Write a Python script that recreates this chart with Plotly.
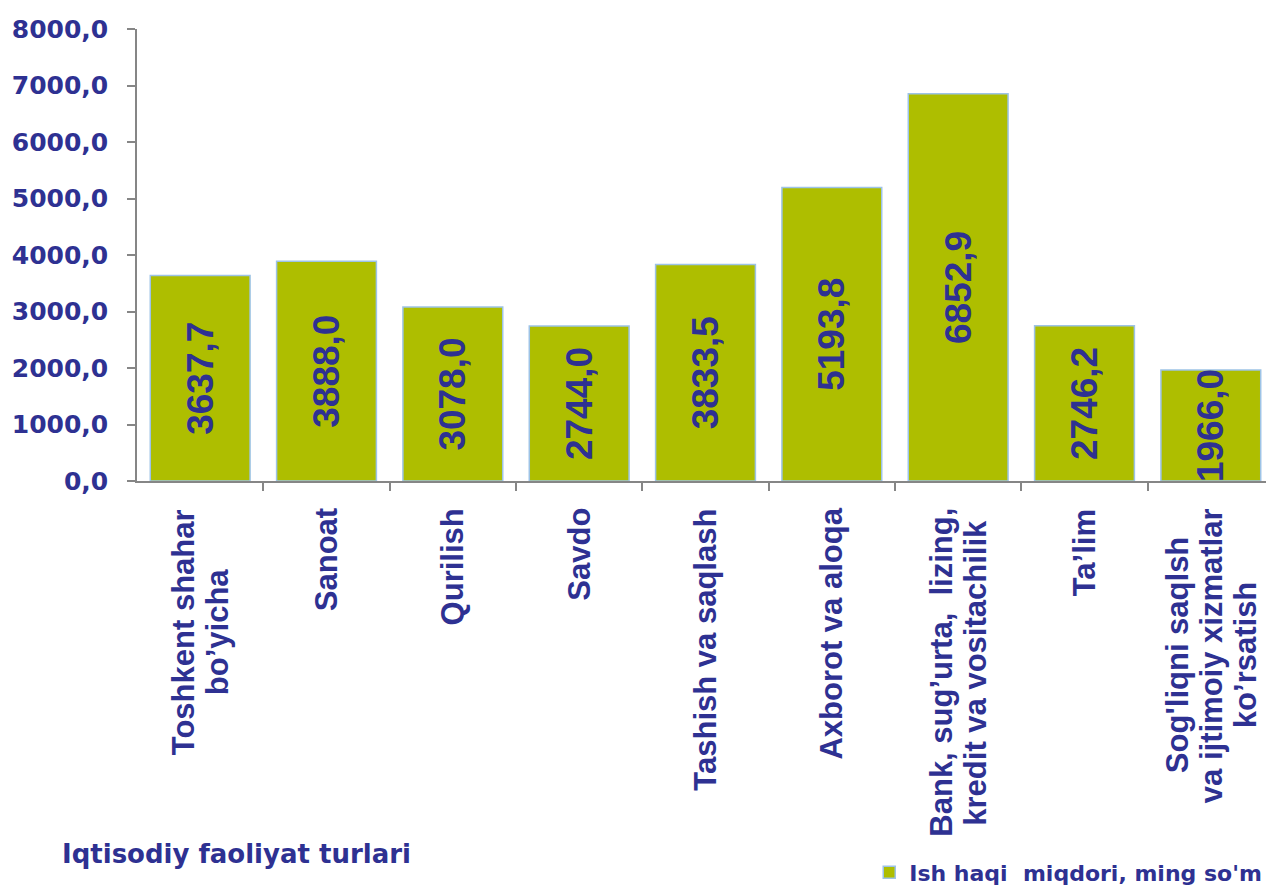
import plotly.graph_objects as go

categories = [
    ["Toshkent shahar", "bo’yicha"],
    ["Sanoat"],
    ["Qurilish"],
    ["Savdo"],
    ["Tashish va saqlash"],
    ["Axborot va aloqa"],
    ["Bank, sug’urta,  lizing,", "kredit va vositachilik"],
    ["Ta’lim"],
    ["Sog'liqni saqlsh", "va ijtimoiy xizmatlar", "ko’rsatish"],
]
values = [3637.7, 3888.0, 3078.0, 2744.0, 3833.5, 5193.8, 6852.9, 2746.2, 1966.0]
series_name = "Ish haqi\u00a0 miqdori, ming so'm"
axis_title = "Iqtisodiy faoliyat turlari"
y_ticks = [0, 1000, 2000, 3000, 4000, 5000, 6000, 7000, 8000]

TEXT = "#2E3192"
AXIS = "#868686"
H_FONT = "DejaVu Sans"
R_FONT = "Liberation Sans"
CAT_SIZE = 31
LINE_STEP = 34
TOP_GAP = 27

# approximate Liberation Sans Bold advance widths (em/1000) used to centre label lines
_W = {" ": 278, ",": 278, "'": 238, "’": 278, "A": 722, "B": 722, "Q": 778, "S": 667,
      "T": 611, "a": 556, "b": 611, "c": 556, "d": 611, "e": 556, "f": 333, "g": 611,
      "h": 611, "i": 278, "j": 278, "k": 556, "l": 278, "m": 889, "n": 611, "o": 611,
      "q": 611, "r": 389, "s": 556, "t": 333, "u": 611, "v": 556, "x": 556, "y": 556,
      "z": 500}


def text_len(s, size):
    return sum(_W.get(c, 556) for c in s) / 1000 * size


fig = go.Figure()
fig.add_trace(go.Bar(
    x=list(range(len(categories))),
    y=values,
    name=series_name,
    marker=dict(color="#AEBE00", line=dict(color="#9DC3E6", width=1.5)),
    texttemplate="<b>%{y:.1f}</b>",
    textposition="inside",
    insidetextanchor="middle",
    textangle=-90,
    constraintext="none",
    textfont=dict(family=R_FONT, size=37, color=TEXT),
    showlegend=True,
))

for i, lines in enumerate(categories):
    n = len(lines)
    block = max(text_len(s, CAT_SIZE) for s in lines)
    for k, line in enumerate(lines):
        fig.add_annotation(
            x=i, xref="x", y=0, yref="paper", yshift=-(TOP_GAP + block / 2),
            xshift=(k - (n - 1) / 2) * LINE_STEP,
            text="<b>" + line + "</b>", textangle=-90,
            xanchor="center", yanchor="middle", align="center",
            showarrow=False,
            font=dict(family=R_FONT, size=CAT_SIZE, color=TEXT),
        )

fig.add_annotation(
    x=-0.0677, xref="paper", y=-0.826, yref="paper",
    text="<b>" + axis_title + "</b>", xanchor="left", yanchor="middle",
    showarrow=False, font=dict(family=H_FONT, size=26, color=TEXT),
)

fig.update_layout(
    width=1266, height=886,
    margin=dict(l=129, r=0, t=21, b=410),
    paper_bgcolor="white", plot_bgcolor="white",
    separators=", ",
    bargap=0.21,
    showlegend=True,
    legend=dict(
        orientation="h", x=0.644, xanchor="left", y=-0.866, yanchor="middle",
        font=dict(family=H_FONT, size=22, color=TEXT, weight="bold"),
        bgcolor="rgba(0,0,0,0)",
    ),
    xaxis=dict(
        type="linear", range=[-0.5, len(categories) - 0.5],
        showticklabels=False, showgrid=False, zeroline=False,
        showline=True, linecolor=AXIS, linewidth=1.5,
        tickmode="array", tickvals=[i + 0.5 for i in range(len(categories) - 1)],
        ticks="outside", ticklen=8, tickcolor=AXIS, tickwidth=1.5,
    ),
    yaxis=dict(
        range=[0, 8000], tickvals=y_ticks, tickformat=".1f",
        showgrid=False, zeroline=False,
        showline=True, linecolor=AXIS, linewidth=1.5,
        ticks="outside", ticklen=8, tickcolor=AXIS, tickwidth=1.5,
        ticklabelstandoff=14,
        tickfont=dict(family=H_FONT, size=25, color=TEXT, weight="bold"),
    ),
)

fig.write_html("out.html")
